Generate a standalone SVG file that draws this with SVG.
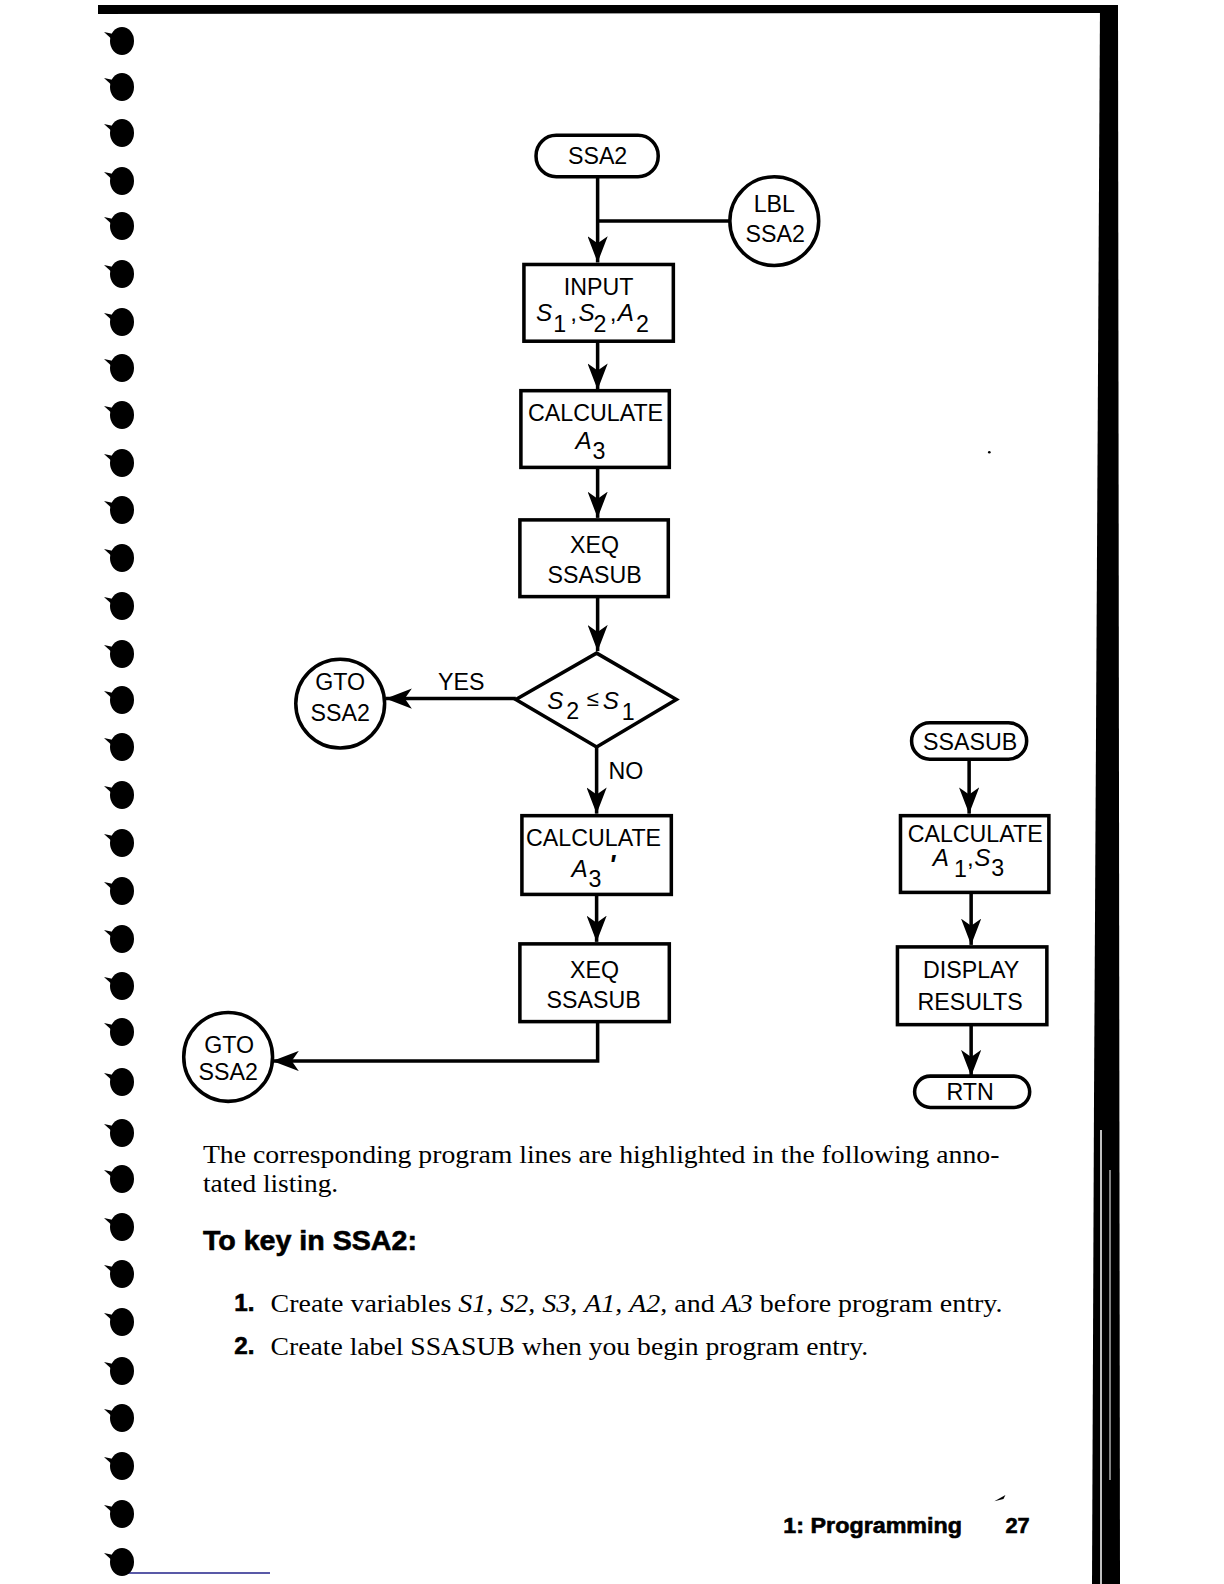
<svg xmlns="http://www.w3.org/2000/svg" xmlns:xlink="http://www.w3.org/1999/xlink" width="1224" height="1584" viewBox="0 0 1224 1584">
<style>
.box{fill:#fff;stroke:#000;stroke-width:3.5}
.ln{fill:none;stroke:#000;stroke-width:3.5}
.arr{fill:none;stroke:#000;stroke-width:3.5;marker-end:url(#ah)}
.t{font-family:"Liberation Sans",Arial,sans-serif;font-size:23px;fill:#000;text-anchor:middle}
.v{font-family:"Liberation Sans",Arial,sans-serif;font-size:24px;fill:#000}
.i{font-style:italic}
.sub{font-size:23px}
.body{font-family:"Liberation Serif","Times New Roman",serif;font-size:26px;fill:#000}
.hd{font-family:"Liberation Sans",Arial,sans-serif;font-weight:bold;fill:#000;stroke:#000;stroke-width:0.6}
</style>
<defs>
<marker id="ah" viewBox="0 0 26 20" refX="26" refY="10" markerWidth="26" markerHeight="20" markerUnits="userSpaceOnUse" orient="auto"><path d="M0,0 L26,10 L0,20 L7,10 Z" fill="#000"/></marker>
<g id="blob"><ellipse cx="0" cy="0" rx="12" ry="14" fill="#000"/><polygon points="-18,-9 -4,-6 -6,2" fill="#000"/></g>
</defs>
<rect width="1224" height="1584" fill="#fff"/>

<g id="page-edges">
<polygon points="98,5 1108,5 1108,13 98,14" fill="#000"/>
<polygon points="1100,5 1118,5 1120,1584 1092,1584 1094,1100" fill="#000"/>
<line x1="1101" y1="1130" x2="1101" y2="1584" stroke="#fff" stroke-width="1.5"/>
<line x1="1110" y1="1170" x2="1110" y2="1480" stroke="#fff" stroke-width="1"/>
<line x1="128" y1="1573" x2="270" y2="1573" stroke="#22228a" stroke-width="1.5"/>
</g>

<g id="binding-holes">
<use xlink:href="#blob" x="122" y="41"/>
<use xlink:href="#blob" x="122" y="87"/>
<use xlink:href="#blob" x="122" y="133"/>
<use xlink:href="#blob" x="122" y="181"/>
<use xlink:href="#blob" x="122" y="226"/>
<use xlink:href="#blob" x="122" y="274"/>
<use xlink:href="#blob" x="122" y="322"/>
<use xlink:href="#blob" x="122" y="368"/>
<use xlink:href="#blob" x="122" y="415"/>
<use xlink:href="#blob" x="122" y="463"/>
<use xlink:href="#blob" x="122" y="510"/>
<use xlink:href="#blob" x="122" y="558"/>
<use xlink:href="#blob" x="122" y="606"/>
<use xlink:href="#blob" x="122" y="654"/>
<use xlink:href="#blob" x="122" y="700"/>
<use xlink:href="#blob" x="122" y="747"/>
<use xlink:href="#blob" x="122" y="795"/>
<use xlink:href="#blob" x="122" y="843"/>
<use xlink:href="#blob" x="122" y="891"/>
<use xlink:href="#blob" x="122" y="939"/>
<use xlink:href="#blob" x="122" y="986"/>
<use xlink:href="#blob" x="122" y="1032"/>
<use xlink:href="#blob" x="122" y="1082"/>
<use xlink:href="#blob" x="122" y="1133"/>
<use xlink:href="#blob" x="122" y="1179"/>
<use xlink:href="#blob" x="122" y="1227"/>
<use xlink:href="#blob" x="122" y="1274"/>
<use xlink:href="#blob" x="122" y="1322"/>
<use xlink:href="#blob" x="122" y="1371"/>
<use xlink:href="#blob" x="122" y="1418"/>
<use xlink:href="#blob" x="122" y="1466"/>
<use xlink:href="#blob" x="122" y="1514"/>
<use xlink:href="#blob" x="122" y="1562"/>
</g>

<g id="content" transform="scale(1.0095)">
<g id="connectors">
<line class="arr" x1="592" y1="175" x2="592" y2="260"/>
<line class="ln" x1="592" y1="219" x2="723" y2="219"/>
<line class="arr" x1="592" y1="338" x2="592" y2="386"/>
<line class="arr" x1="592" y1="463" x2="592" y2="513"/>
<line class="arr" x1="592" y1="591" x2="592" y2="645"/>
<line class="arr" x1="511" y1="692" x2="382" y2="692"/>
<line class="arr" x1="591" y1="740" x2="591" y2="806"/>
<line class="arr" x1="591" y1="886" x2="591" y2="933"/>
<polyline class="arr" points="592,1012 592,1051 270,1051"/>
<line class="arr" x1="960" y1="752" x2="960" y2="806"/>
<line class="arr" x1="962" y1="884" x2="962" y2="936"/>
<line class="arr" x1="962" y1="1015" x2="962" y2="1066"/>
</g>

<g id="n-ssa2">
<rect class="box" x="531" y="134" width="121" height="41" rx="20"/>
<text class="t" x="592" y="162">SSA2</text>
</g>
<g id="n-lbl">
<circle class="box" cx="767" cy="219" r="44"/>
<text class="t" x="767" y="210">LBL</text>
<text class="t" x="768" y="240">SSA2</text>
</g>
<g id="n-input">
<rect class="box" x="519" y="262" width="148" height="76"/>
<text class="t" x="593" y="292">INPUT</text>
<text class="v"><tspan class="i" x="531" y="318">S</tspan><tspan class="sub" x="548" y="329">1</tspan><tspan x="565" y="318">,</tspan><tspan class="i" x="573" y="318">S</tspan><tspan class="sub" x="588" y="329">2</tspan><tspan x="604" y="318">,</tspan><tspan class="i" x="612" y="318">A</tspan><tspan class="sub" x="630" y="329">2</tspan></text>
</g>
<g id="n-calc-a3">
<rect class="box" x="516" y="387" width="147" height="76"/>
<text class="t" x="590" y="417">CALCULATE</text>
<text class="v"><tspan class="i" x="570" y="445">A</tspan><tspan class="sub" x="587" y="455">3</tspan></text>
</g>
<g id="n-xeq1">
<rect class="box" x="515" y="515" width="147" height="76"/>
<text class="t" x="589" y="548">XEQ</text>
<text class="t" x="589" y="578">SSASUB</text>
</g>
<g id="n-decision">
<polygon class="box" points="591,647 670,693 591,740 511,693"/>
<text class="v"><tspan class="i" x="542" y="702">S</tspan><tspan class="sub" x="561" y="712">2</tspan><tspan font-size="22" x="581" y="699">≤</tspan><tspan class="i" x="597" y="702">S</tspan><tspan class="sub" x="616" y="713">1</tspan></text>
</g>
<text class="t" x="457" y="684">YES</text>
<text class="t" x="620" y="772">NO</text>
<g id="n-gto1">
<circle class="box" cx="337" cy="697" r="44"/>
<text class="t" x="337" y="684">GTO</text>
<text class="t" x="337" y="714">SSA2</text>
</g>
<g id="n-calc-a3p">
<rect class="box" x="517" y="808" width="148" height="78"/>
<text class="t" x="588" y="838">CALCULATE</text>
<text class="v"><tspan class="i" x="566" y="869">A</tspan><tspan class="sub" x="583" y="879">3</tspan><tspan class="i" font-weight="bold" font-size="27" x="603" y="866">'</tspan></text>
</g>
<g id="n-xeq2">
<rect class="box" x="515" y="935" width="148" height="77"/>
<text class="t" x="589" y="969">XEQ</text>
<text class="t" x="588" y="999">SSASUB</text>
</g>
<g id="n-gto2">
<circle class="box" cx="226" cy="1047" r="44"/>
<text class="t" x="227" y="1043">GTO</text>
<text class="t" x="226" y="1070">SSA2</text>
</g>

<g id="n-ssasub">
<rect class="box" x="903" y="716" width="114" height="36" rx="18"/>
<text class="t" x="961" y="743">SSASUB</text>
</g>
<g id="n-calc-a1s3">
<rect class="box" x="892" y="808" width="147" height="76"/>
<text class="t" x="966" y="834">CALCULATE</text>
<text class="v"><tspan class="i" x="924" y="858">A</tspan><tspan class="sub" x="945" y="869">1</tspan><tspan x="958" y="858">,</tspan><tspan class="i" x="965" y="858">S</tspan><tspan class="sub" x="982" y="868">3</tspan></text>
</g>
<g id="n-display">
<rect class="box" x="889" y="938" width="148" height="77"/>
<text class="t" x="962" y="969">DISPLAY</text>
<text class="t" x="961" y="1000">RESULTS</text>
</g>
<g id="n-rtn">
<rect class="box" x="906" y="1066" width="114" height="31" rx="15.5"/>
<text class="t" x="961" y="1090">RTN</text>
</g>

<circle cx="980" cy="448" r="1.3" fill="#000"/>

<g id="body-text">
<text class="body" x="201" y="1152" textLength="789" lengthAdjust="spacingAndGlyphs">The corresponding program lines are highlighted in the following anno-</text>
<text class="body" x="201" y="1181" textLength="134" lengthAdjust="spacingAndGlyphs">tated listing.</text>
<text class="hd" x="201" y="1238" font-size="28" textLength="212" lengthAdjust="spacingAndGlyphs">To key in SSA2:</text>
<text class="hd" x="232" y="1299" font-size="24">1.</text>
<text class="body" x="268" y="1300" font-size="27" textLength="725" lengthAdjust="spacingAndGlyphs">Create variables <tspan font-style="italic">S1,</tspan> <tspan font-style="italic">S2,</tspan> <tspan font-style="italic">S3,</tspan> <tspan font-style="italic">A1,</tspan> <tspan font-style="italic">A2,</tspan> and <tspan font-style="italic">A3</tspan> before program entry.</text>
<text class="hd" x="232" y="1341" font-size="24">2.</text>
<text class="body" x="268" y="1342" font-size="27" textLength="592" lengthAdjust="spacingAndGlyphs">Create label SSASUB when you begin program entry.</text>
<text class="hd" x="776" y="1519" font-size="22" textLength="177" lengthAdjust="spacingAndGlyphs">1: Programming</text>
<text class="hd" x="996" y="1519" font-size="22" textLength="24" lengthAdjust="spacingAndGlyphs">27</text>
<path d="M985,1487 L996,1481 L994,1485 Z" fill="#000"/>
</g>
</g>
</svg>
